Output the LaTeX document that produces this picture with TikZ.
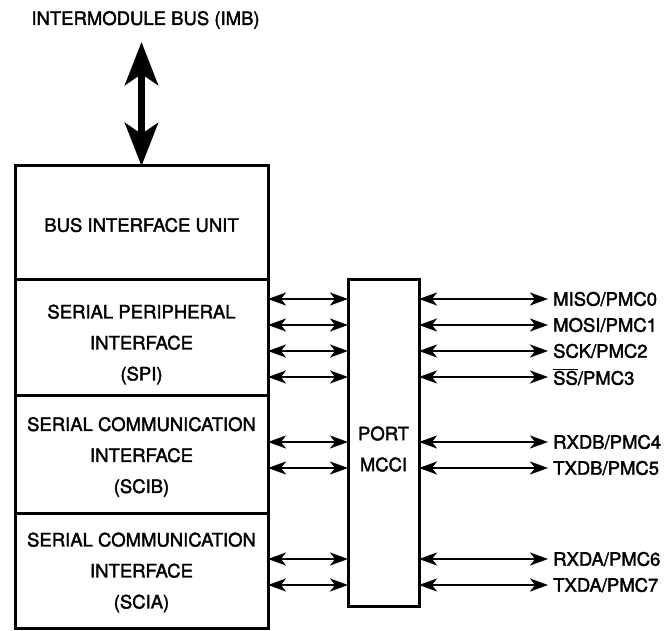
\documentclass[tikz,border=0pt]{standalone}
\usepackage{fontspec}
\setmainfont{TeX Gyre Heros}
\newfontfamily\diagfont[FakeBold=2]{TeX Gyre Heros}
\usepackage{tikz}
\usetikzlibrary{arrows.meta,positioning}

\begin{document}
\begin{tikzpicture}[
  x=1pt, y=1pt,
  mod/.style={draw, line width=3pt, minimum width=253pt, inner sep=0pt,
              outer sep=0pt},
  txt/.style={align=center, font=\diagfont\fontsize{18.5}{31}\selectfont},
  pin/.style={anchor=west, inner sep=0pt, font=\diagfont\fontsize{18.5}{22}\selectfont},
  sig/.style={{Stealth[length=18pt,width=13pt,inset=5pt]}-{Stealth[length=18pt,width=13pt,inset=5pt]},
              line width=2.4pt},
  bus/.style={{Stealth[length=43pt,width=33pt,inset=11pt]}-{Stealth[length=43pt,width=33pt,inset=11pt]},
              line width=7pt}]
\useasboundingbox (0,0) rectangle (664,630);
% left column of modules
\node[mod, minimum height=114pt] (biu) at (141.5,407) {};
\node[mod, minimum height=115pt, below=0pt of biu] (spi) {};
\node[mod, minimum height=118pt, below=0pt of spi] (scib) {};
\node[mod, minimum height=115pt, below=0pt of scib] (scia) {};
\node[txt] (biut) at ([yshift=-2pt]biu.center) {BUS INTERFACE UNIT};
\node[txt] (spit) at ([yshift=-7pt]spi.center) {SERIAL PERIPHERAL\\INTERFACE\\(SPI)};
\node[txt] (scibt) at ([yshift=-3pt]scib.center) {SERIAL COMMUNICATION\\INTERFACE\\(SCIB)};
\node[txt] (sciat) at ([yshift=-2pt]scia.center) {SERIAL COMMUNICATION\\INTERFACE\\(SCIA)};
% port
\node[mod, minimum width=71pt, minimum height=326pt] (port) at (383.5,187) {};
\node[txt] (portt) at ([yshift=-6pt]port.center) {PORT\\MCCI};
% bus
\node[txt] (imb) at (145.5,610) {INTERMODULE BUS (IMB)};
\coordinate (bustop) at (141.5,588);
\draw[bus] (bustop) -- (biu.north);
% pins
\foreach \n/\y/\t in {0/331/{MISO/PMC0}, 1/305/{MOSI/PMC1}, 2/279/{SCK/PMC2},
    3/253/{$\overline{\mbox{SS}}$/PMC3}, 4/188/{RXDB/PMC4}, 5/162/{TXDB/PMC5},
    6/71/{RXDA/PMC6}, 7/45/{TXDA/PMC7}}
  \node[pin] (p\n) at (553,\y) {\t};
\foreach \n/\m in {0/spi,1/spi,2/spi,3/spi,4/scib,5/scib,6/scia,7/scia}{
  \draw[sig] (\m.east |- p\n) -- (port.west |- p\n);
  \draw[sig, shorten >=5pt] (port.east |- p\n) -- (p\n.west);
}
\end{tikzpicture}
\end{document}
